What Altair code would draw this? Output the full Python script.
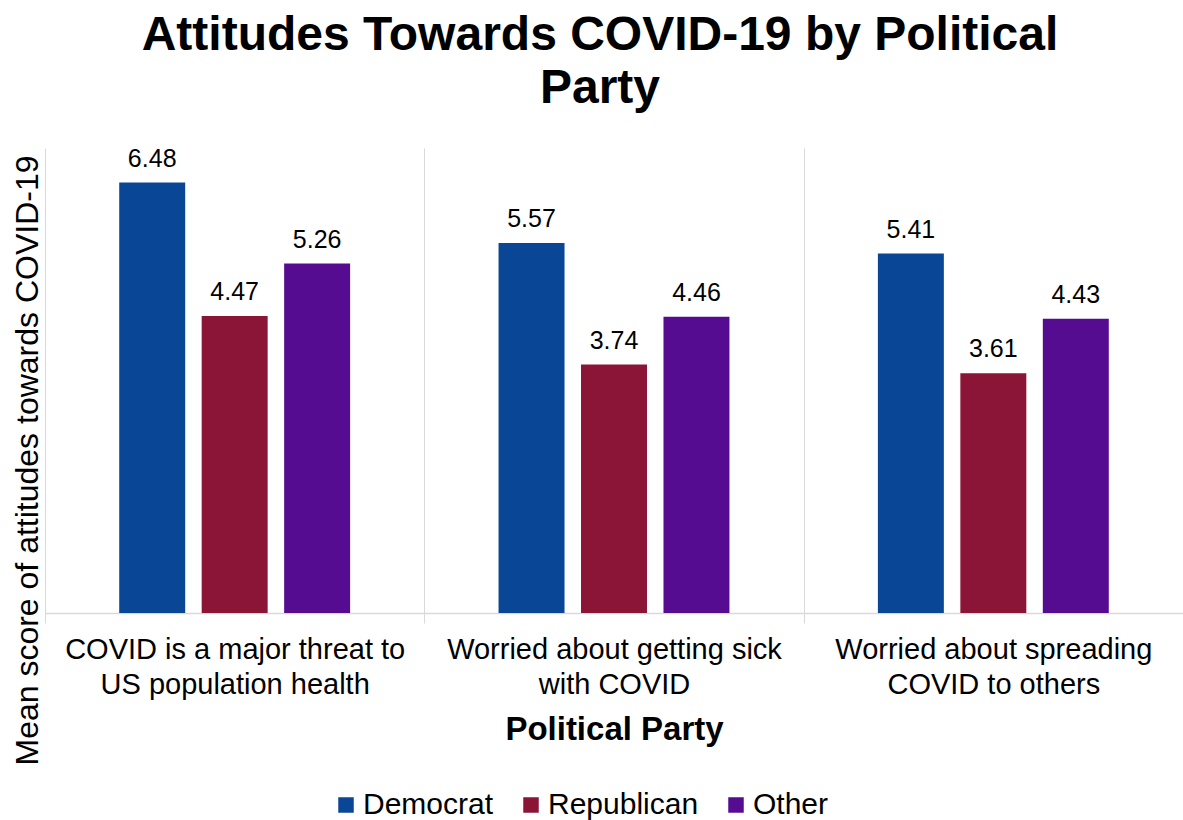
import altair as alt
import pandas as pd

# Survey items (label lines split on "|"), parties and mean scores
items = [
    "COVID is a major threat to|US population health",
    "Worried about getting sick|with COVID",
    "Worried about spreading|COVID to others",
]
parties = ["Democrat", "Republican", "Other"]
democrat = [6.48, 5.57, 5.41]
republican = [4.47, 3.74, 3.61]
other = [5.26, 4.46, 4.43]
party_colors = ["#0A4696", "#8A1537", "#560C91"]

rows = []
for i, item in enumerate(items):
    for party, series in zip(parties, [democrat, republican, other]):
        rows.append({"item": item, "party": party, "score": series[i]})
df = pd.DataFrame(rows)

FONT = "Liberation Sans"
GRID = "#D9D9D9"

x_enc = alt.X(
    "item:N",
    sort=items,
    scale=alt.Scale(paddingInner=0, paddingOuter=0),
    axis=alt.Axis(
        title="Political Party",
        titleFontSize=33,
        titleFontWeight="bold",
        titleColor="black",
        titleY=126,
        titleBaseline="alphabetic",
        labelExpr="split(datum.label, '|')",
        labelFontSize=29,
        labelLineHeight=35,
        labelColor="black",
        labelAngle=0,
        labelBaseline="top",
        labelPadding=12,
        labelLimit=0,
        tickBand="extent",
        tickSize=10,
        tickColor=GRID,
        grid=True,
        gridColor=GRID,
        domainColor=GRID,
        domainWidth=1.5,
    ),
)
xoff_enc = alt.XOffset(
    "party:N", sort=parties, scale=alt.Scale(paddingInner=0.2, paddingOuter=0.9)
)
y_enc = alt.Y(
    "score:Q",
    scale=alt.Scale(domain=[0, 7], nice=False),
    axis=alt.Axis(
        title="Mean score of attitudes towards COVID-19",
        titleFontSize=32,
        titleFontWeight="normal",
        titleColor="black",
        titleAngle=270,
        titleX=-8,
        titleY=312,
        titleAlign="center",
        titleBaseline="alphabetic",
        labels=False,
        ticks=False,
        domain=False,
        grid=False,
    ),
)
color_enc = alt.Color(
    "party:N",
    sort=parties,
    scale=alt.Scale(domain=parties, range=party_colors),
    legend=alt.Legend(
        title=None,
        orient="none",
        direction="horizontal",
        legendX=286,
        legendY=642,
        symbolType="square",
        symbolSize=240,
        symbolStrokeWidth=0,
        symbolOpacity=1,
        labelFontSize=30,
        labelColor="black",
        labelOffset=2,
        columnPadding=22,
        padding=0,
    ),
)

bars = alt.Chart(df).mark_bar().encode(
    x=x_enc, xOffset=xoff_enc, y=y_enc, color=color_enc
)

labels = alt.Chart(df).mark_text(
    fontSize=25, dy=-16, baseline="alphabetic", color="black"
).encode(
    x=alt.X("item:N", sort=items),
    xOffset=alt.XOffset("party:N", sort=parties),
    y="score:Q",
    text=alt.Text("score:Q", format=".2f"),
)

chart = (
    alt.layer(bars, labels)
    .properties(
        width=1138,
        height=465,
        title=alt.Title(
            text=["Attitudes Towards COVID-19 by Political", "Party"],
            fontSize=48,
            fontWeight="bold",
            color="black",
            lineHeight=53,
            anchor="middle",
            dx=-14,
            offset=34,
        ),
        autosize=alt.AutoSizeParams(type="none"),
        padding={"left": 45, "top": 148, "right": 0, "bottom": 207},
    )
    .configure(font=FONT)
    .configure_view(stroke=None)
)

chart.save("out.html", embed_options={"renderer": "svg", "actions": False})
